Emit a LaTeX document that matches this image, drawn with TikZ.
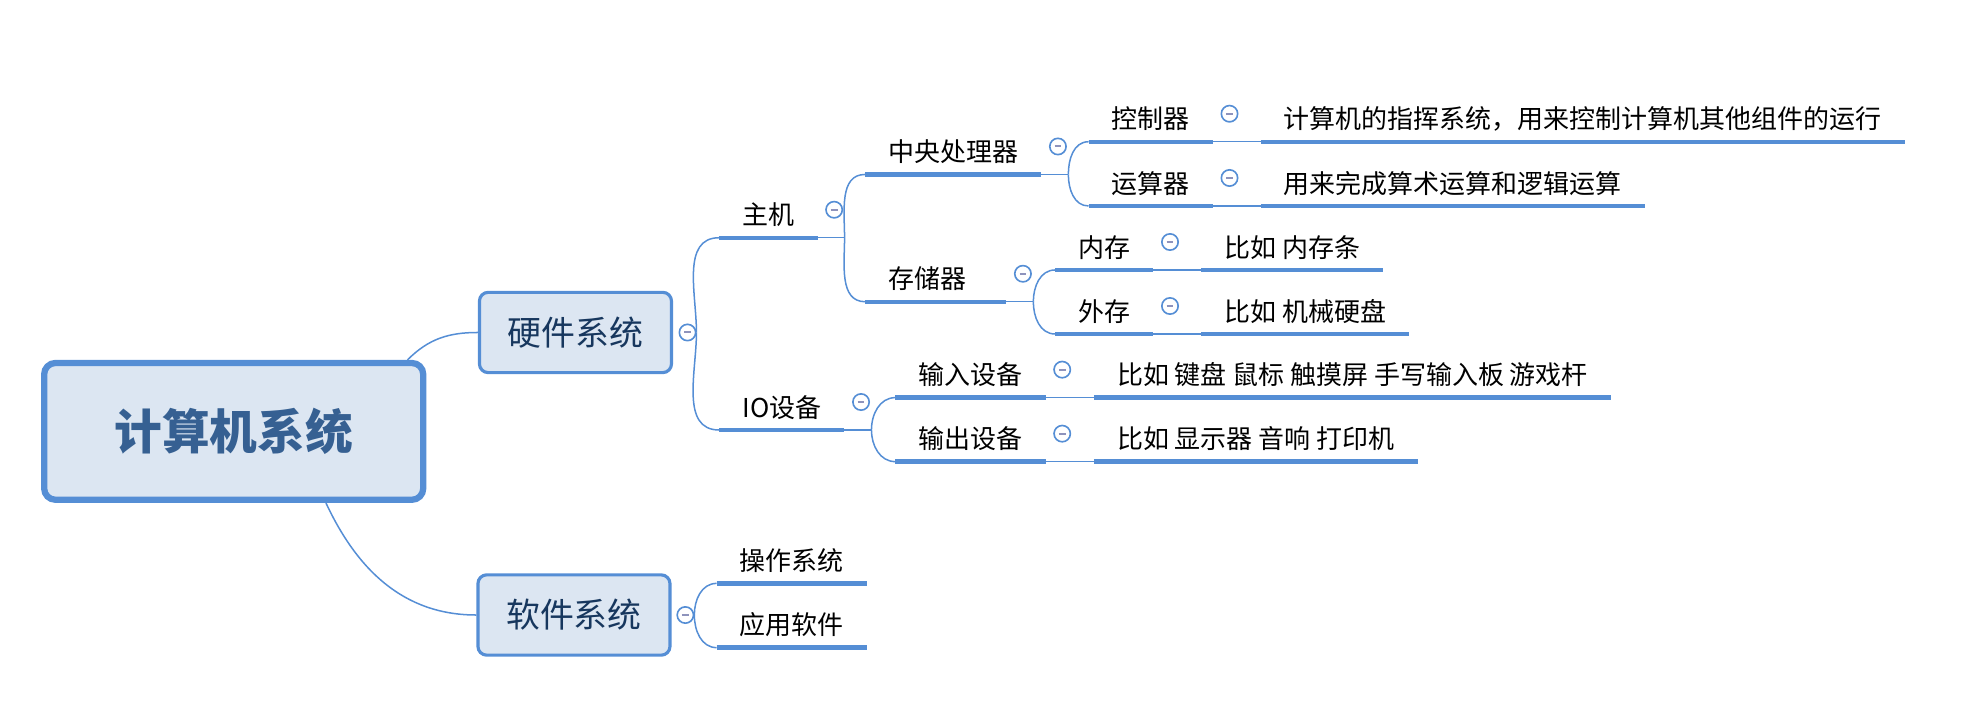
\documentclass[tikz,border=0pt]{standalone}
\usepackage{fontspec}
\setmainfont{Noto Sans CJK SC}
\usetikzlibrary{positioning,calc}
\definecolor{mmblue}{HTML}{558ED5}
\definecolor{boxfill}{HTML}{DCE6F2}
\definecolor{roottext}{HTML}{366092}
\definecolor{boxtext}{HTML}{17375E}
\definecolor{minusgray}{HTML}{8E93BC}

\begin{document}
\begin{tikzpicture}[x=1pt,y=1pt,
  rootbox/.style={draw=mmblue,fill=boxfill,line width=5pt,rounded corners=9pt,minimum width=302pt,minimum height=109pt,inner sep=0pt,text=roottext,font=\fontsize{38}{42}\selectfont\bfseries},
  subbox/.style={draw=mmblue,fill=boxfill,line width=2.5pt,rounded corners=7pt,minimum width=153pt,minimum height=64pt,inner sep=0pt,text=boxtext,font=\fontsize{27}{30}\selectfont},
  topic/.style={anchor=south west,inner xsep=18.3pt,inner ysep=5pt,text height=15pt,text depth=5pt,font=\fontsize{20.7}{24}\selectfont},
  uline/.style={mmblue,line width=3.5pt},
  link/.style={mmblue,line width=1.2pt},
  fold/.style={circle,draw=mmblue,line width=1.3pt,fill=white,minimum size=13pt,inner sep=0pt,
    path picture={\draw[minusgray,line width=1.6pt] ([xshift=-2.7pt]path picture bounding box.center) -- ([xshift=2.7pt]path picture bounding box.center);}}]
  \useasboundingbox (0,0) rectangle (1568,-579);

  % root and the two systems
  \node[rootbox] (root) at (186.2,-343.7) {计算机系统};
  \node[subbox] (hw) at (458.5,-264.9) {硬件系统};
  \node[subbox] (sw) at (457.3,-490) {软件系统};
  \draw[link] ([xshift=-15pt]root.north east) to[out=45,in=180] (hw.west);
  \draw[link] ([xshift=-80pt]root.south east) to[out=-65,in=180] (sw.west);
  \node[fold] (hw-f) at ([xshift=11.5pt]hw.east) {};
  \node[fold] (sw-f) at ([xshift=11pt]sw.east) {};

  % hardware
  \node[topic] (zj) at (573,-189.4) {主机};
  \node[topic] (io) at (573,-342.6) {IO设备};
  \node[topic] (cpu) at (689.2,-139) {中央处理器};
  \node[topic,text width=75.4pt,align=left] (mem) at (689.4,-240.4) {存储器};
  \node[topic] (ctl) at (867.3,-112.9) {控制器};
  \node[topic] (alu) at (867.3,-164.1) {运算器};
  \node[topic] (ctl-d) at (1004.5,-112.9) {计算机的指挥系统，用来控制计算机其他组件的运行};
  \node[topic] (alu-d) at (1004.5,-164.1) {用来完成算术运算和逻辑运算};
  \node[topic] (nc) at (840.6,-215.1) {内存};
  \node[topic] (wc) at (840.6,-266.1) {外存};
  \node[topic] (nc-d) at (957,-215.1) {比如 内存条};
  \node[topic] (wc-d) at (957,-266.1) {比如 机械硬盘};
  \node[topic] (inp) at (713.3,-316.8) {输入设备};
  \node[topic] (outp) at (713.3,-367.8) {输出设备};
  \node[topic] (inp-d) at (871.5,-316.8) {比如 键盘 鼠标 触摸屏 手写输入板 游戏杆};
  \node[topic] (outp-d) at (871.5,-367.8) {比如 显示器 音响 打印机};

  % software
  \node[topic] (os) at (571,-464.8) {操作系统};
  \node[topic] (app) at (571,-516) {应用软件};

  \foreach \n in {zj,io,cpu,mem,ctl,alu,ctl-d,alu-d,nc,wc,nc-d,wc-d,inp,outp,inp-d,outp-d,os,app}
    \draw[uline] (\n.south west) -- (\n.south east);

  \foreach \n in {zj,io,cpu,mem}
    \coordinate (\n-j) at ([xshift=21.5pt]\n.south east);
  \foreach \n in {zj,io,cpu,mem}
    \draw[link] (\n.south east) -- (\n-j);

  \draw[link] (hw-f.east) to[out=90,in=180] (zj.south west);
  \draw[link] (hw-f.east) to[out=-90,in=180] (io.south west);
  \draw[link] (zj-j) to[out=90,in=180] (cpu.south west);
  \draw[link] (zj-j) to[out=-90,in=180] (mem.south west);
  \draw[link] (cpu-j) to[out=90,in=180] (ctl.south west);
  \draw[link] (cpu-j) to[out=-90,in=180] (alu.south west);
  \draw[link] (mem-j) to[out=90,in=180] (nc.south west);
  \draw[link] (mem-j) to[out=-90,in=180] (wc.south west);
  \draw[link] (io-j) to[out=90,in=180] (inp.south west);
  \draw[link] (io-j) to[out=-90,in=180] (outp.south west);
  \draw[link] (sw-f.east) to[out=90,in=180] (os.south west);
  \draw[link] (sw-f.east) to[out=-90,in=180] (app.south west);
  \foreach \n in {ctl,alu,nc,wc,inp,outp}
    \draw[link] (\n.south east) -- (\n-d.south west);

  \foreach \n in {zj,io,cpu,mem,ctl,alu,nc,wc,inp,outp}
    \node[fold] (\n-f) at ([shift={(13.2pt,22.3pt)}]\n.south east) {};
\end{tikzpicture}
\end{document}
